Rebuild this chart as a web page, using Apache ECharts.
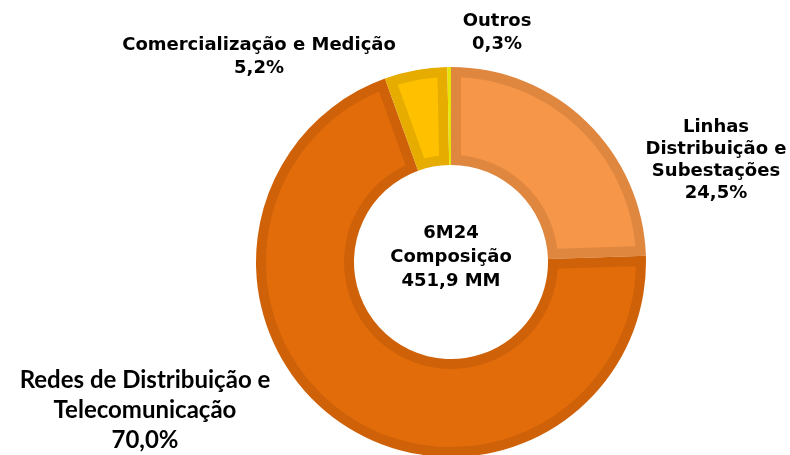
<!DOCTYPE html>
<html>
<head>
<meta charset="utf-8">
<script src="https://cdn.jsdelivr.net/npm/echarts@6/dist/echarts.min.js"></script>
<style>
html,body{margin:0;padding:0;background:#fff;}
#chart{width:790px;height:455px;}
</style>
</head>
<body>
<div id="chart"></div>
<script>
// Data
const categories = ['Linhas Distribuição e Subestações', 'Redes de Distribuição e Telecomunicação', 'Comercialização e Medição', 'Outros'];
const labelNames = ['Linhas\nDistribuição e\nSubestações', 'Redes de Distribuição e\nTelecomunicação', 'Comercialização e Medição', 'Outros'];
const shares = [24.5, 70.0, 5.2, 0.3];
const centerLines = ['6M24', 'Composição', '451,9 MM'];

// Styles
const fillColors = ['#F59648', '#E36C0A', '#FFC000', '#E4E40A'];
const edgeColors = ['#E0873F', '#CF6209', '#E6AC00', '#E4E40A'];
const labelPos = [[716, 160], [145, 410], [259, 57], [497, 33]];
const labelLH = [22, 30, 23, 23];
const CX = 451, CY = 262;
const R_OUT = 195, R_IN = 97, BAND = 10;

const chart = echarts.init(document.getElementById('chart'), null, {renderer: 'canvas'});
const fmt = v => v.toFixed(1).replace('.', ',') + '%';
const verdana = "'DejaVu Sans', Verdana, sans-serif";
const total = shares.reduce((a, b) => a + b, 0);

// Fill sectors inset by a constant-width border band, drawn via the polar scales
function renderFill(params, api) {
  const i = params.dataIndex;
  let start = 0;
  for (let k = 0; k < i; k++) start += shares[k];
  const end = start + shares[i];
  const rOut = R_OUT - BAND, rIn = R_IN + BAND;
  const toUnits = r => Math.asin(BAND / r) * 180 / Math.PI * total / 360;
  const sOut = start + toUnits(rOut), eOut = end - toUnits(rOut);
  const sIn = start + toUnits(rIn), eIn = end - toUnits(rIn);
  if (eIn <= sIn || eOut <= sOut) return {type: 'group', children: []};
  const pts = [];
  const n = 80;
  for (let k = 0; k <= n; k++) pts.push(api.coord([rOut, sOut + (eOut - sOut) * k / n]));
  for (let k = n; k >= 0; k--) pts.push(api.coord([rIn, sIn + (eIn - sIn) * k / n]));
  return {type: 'polygon', shape: {points: pts}, style: {fill: fillColors[i]}};
}

chart.setOption({
  animation: false,
  backgroundColor: '#ffffff',
  polar: {center: [CX, CY], radius: R_OUT},
  angleAxis: {type: 'value', min: 0, max: total, startAngle: 90, clockwise: true, show: false},
  radiusAxis: {type: 'value', min: 0, max: R_OUT, show: false},
  series: [
    {
      type: 'pie',
      center: [CX, CY],
      radius: [R_IN, R_OUT],
      startAngle: 90,
      clockwise: true,
      silent: true,
      z: 1,
      avoidLabelOverlap: false,
      data: categories.map((c, i) => ({
        name: c,
        value: shares[i],
        itemStyle: {color: edgeColors[i]},
        label: i === 1
          ? {fontFamily: 'Lato, sans-serif', fontSize: 24, lineHeight: labelLH[i], fontWeight: 'bold'}
          : {lineHeight: labelLH[i]}
      })),
      label: {
        show: true,
        position: 'outside',
        formatter: p => labelNames[p.dataIndex] + '\n' + fmt(p.value),
        fontFamily: verdana,
        fontWeight: 'bold',
        fontSize: 18,
        color: '#000',
        align: 'center'
      },
      labelLine: {show: false},
      labelLayout: p => ({
        x: labelPos[p.dataIndex][0],
        y: labelPos[p.dataIndex][1],
        align: 'center',
        verticalAlign: 'middle'
      }),
      emphasis: {disabled: true}
    },
    {
      type: 'custom',
      coordinateSystem: 'polar',
      silent: true,
      z: 5,
      clip: false,
      data: shares.map((v, i) => [150, i]),
      renderItem: renderFill
    }
  ],
  graphic: [{
    type: 'text',
    x: CX,
    y: 257,
    style: {
      text: centerLines.join('\n'),
      fontFamily: verdana,
      fontWeight: 'bold',
      fontSize: 18,
      lineHeight: 24,
      fill: '#000',
      textAlign: 'center',
      textVerticalAlign: 'middle'
    }
  }]
});
</script>
</body>
</html>
